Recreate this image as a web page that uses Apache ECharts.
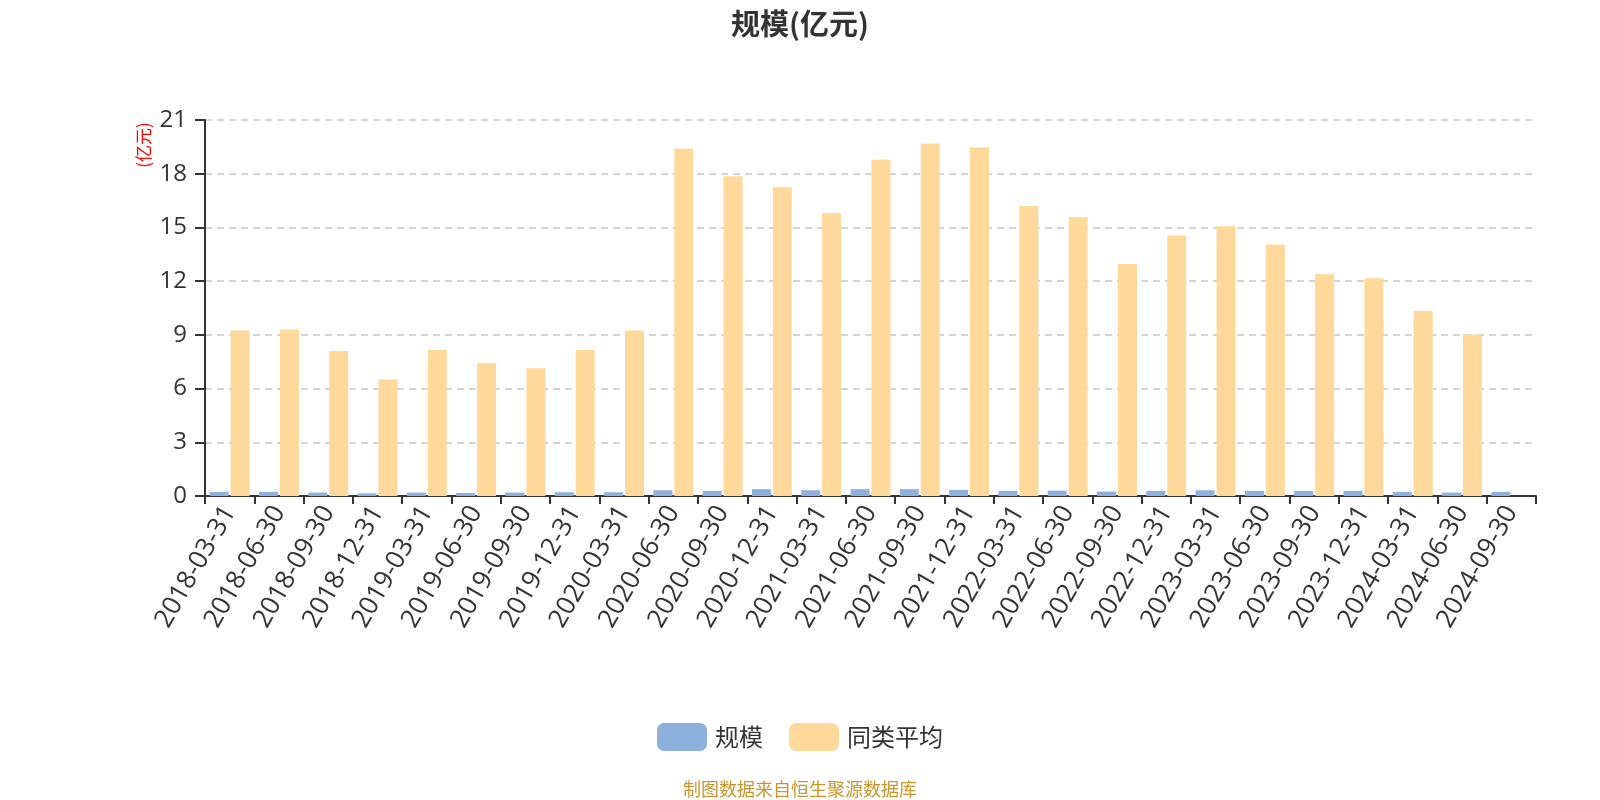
<!DOCTYPE html>
<html>
<head>
<meta charset="utf-8">
<script src="https://cdn.jsdelivr.net/npm/echarts@6/dist/echarts.min.js"></script>
<style>html,body{margin:0;padding:0;background:#fff}#c{width:1600px;height:800px}</style>
</head>
<body>
<div id="c"></div>
<script>
const categories = ['2018-03-31','2018-06-30','2018-09-30','2018-12-31','2019-03-31','2019-06-30','2019-09-30','2019-12-31','2020-03-31','2020-06-30','2020-09-30','2020-12-31','2021-03-31','2021-06-30','2021-09-30','2021-12-31','2022-03-31','2022-06-30','2022-09-30','2022-12-31','2023-03-31','2023-06-30','2023-09-30','2023-12-31','2024-03-31','2024-06-30','2024-09-30'];
const scaleValues = [0.23,0.23,0.19,0.15,0.19,0.17,0.19,0.21,0.21,0.32,0.29,0.38,0.32,0.38,0.38,0.34,0.29,0.30,0.25,0.29,0.32,0.29,0.29,0.29,0.23,0.19,0.23];
const avgValues = [9.25,9.3,8.1,6.5,8.16,7.42,7.13,8.16,9.25,19.4,17.86,17.24,15.8,18.78,19.69,19.46,16.2,15.58,12.96,14.55,15.07,14.04,12.39,12.16,10.33,9.02,null];
const yTicks = {min:0, max:21, interval:3};

const chart = echarts.init(document.getElementById('c'));
chart.setOption({
  backgroundColor:'#fff',
  title:{text:'规模(亿元)', left:'center', top:4, textStyle:{fontSize:29, fontWeight:'bold', color:'#333', fontFamily:'Noto Sans CJK SC'}},
  legend:{top:718, left:'center', itemWidth:50, itemHeight:28, itemGap:26, itemStyle:{borderRadius:7},
    textStyle:{fontSize:24, color:'#333', fontFamily:'Noto Sans CJK SC', padding:[0,0,0,3]}, data:['规模','同类平均']},
  graphic:[
    {type:'text', left:'center', top:780, style:{text:'制图数据来自恒生聚源数据库', fill:'#c8962e', fontSize:18, fontFamily:'Noto Sans CJK SC'}},
    {type:'text', x:144, y:145, rotation:Math.PI/2, style:{text:'(亿元)', fill:'#ff0000', fontSize:17, fontFamily:'Noto Sans CJK SC', align:'center', verticalAlign:'middle'}}
  ],
  grid:{left:205, right:64, top:120, bottom:304},
  xAxis:{type:'category', data:categories,
    axisLine:{lineStyle:{color:'#333', width:2}},
    axisTick:{show:true, length:8, lineStyle:{color:'#333', width:2}},
    axisLabel:{rotate:60, interval:0, fontSize:26, color:'#333', fontFamily:'Open Sans', margin:12}},
  yAxis:{type:'value', min:yTicks.min, max:yTicks.max, interval:yTicks.interval,
    axisLine:{show:true, lineStyle:{color:'#333', width:2}},
    axisTick:{show:true, length:10, lineStyle:{color:'#333', width:2}},
    axisLabel:{fontSize:24, color:'#333', fontFamily:'Open Sans', margin:18},
    splitLine:{lineStyle:{type:[7,5], color:'#c8c8c8', width:1.5}}},
  series:[
    {name:'规模', type:'bar', data:scaleValues, barWidth:19, barGap:'10%', itemStyle:{color:'#8eb0dc'}},
    {name:'同类平均', type:'bar', data:avgValues, barWidth:19, itemStyle:{color:'#ffd99b'}}
  ]
});
</script>
</body>
</html>
